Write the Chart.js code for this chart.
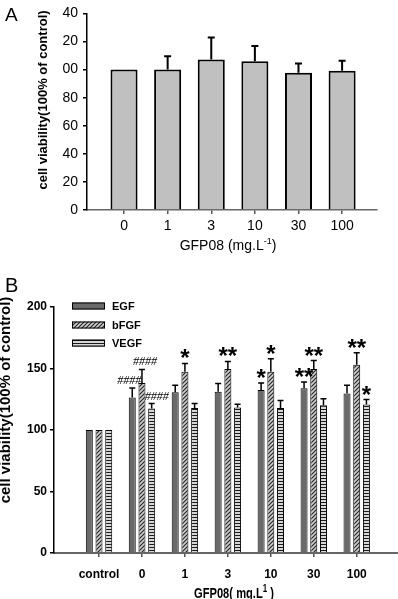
<!DOCTYPE html>
<html>
<head>
<meta charset="utf-8">
<script src="https://cdn.jsdelivr.net/npm/chart.js@4"></script>
<style>
  html, body { margin: 0; padding: 0; background: #fff; }
  body { width: 398px; height: 599px; position: relative; overflow: hidden; }
  canvas { position: absolute; left: 0; }
  #chartA { top: 0; }
  #chartB { top: 262px; }
</style>
</head>
<body>
<canvas id="chartA" width="398" height="262"></canvas>
<canvas id="chartB" width="398" height="337"></canvas>
<script>
// Panel A - GFP08 alone
const catsA = ['0', '1', '3', '10', '30', '100'];
const meanA = [100, 100, 107.1, 106, 97.7, 99.1];
const sdA = [0, 9.5, 15.7, 10.8, 6.7, 7.1];
const yTicksA = ['0', '20', '40', '60', '80', '00', '20', '40'];

// Panel B - GFP08 with growth factors
const catsB = ['control', '0', '1', '3', '10', '30', '100'];
const egf = [100, 126.4, 130.7, 131, 132.6, 134, 129.6];
const egfSd = [0, 7.8, 5.7, 6.8, 5.7, 5.1, 6.8];
const bfgf = [100, 138.3, 147.3, 149.5, 147.3, 149.5, 153];
const bfgfSd = [0, 10.9, 6.8, 6.2, 10.6, 7, 9.8];
const vegf = [100, 117.4, 117.9, 118.2, 117.9, 120.1, 120.7];
const vegfSd = [0, 4.1, 3.6, 2.7, 6, 5.4, 4];
const egfMarks = ['', '####', '', '', '*', '**', ''];
const bfgfMarks = ['', '####', '*', '**', '*', '**', '**'];
const vegfMarks = ['', '####', '', '', '', '', '*'];

const yTitle = 'cell viability(100% of control)';
const FONT = '"Liberation Sans", Arial, sans-serif';

// fill patterns for panel B
function makeHatch() {
  const c = document.createElement('canvas');
  c.width = 4; c.height = 4;
  const g = c.getContext('2d');
  g.fillStyle = '#d2d2d2';
  g.fillRect(0, 0, 4, 4);
  g.strokeStyle = '#222';
  g.lineWidth = 1.2;
  g.beginPath();
  g.moveTo(0, 4); g.lineTo(4, 0);
  g.moveTo(-1, 1); g.lineTo(1, -1);
  g.moveTo(3, 5); g.lineTo(5, 3);
  g.stroke();
  return g.createPattern(c, 'repeat');
}

function makeStripes() {
  const c = document.createElement('canvas');
  c.width = 2; c.height = 3;
  const g = c.getContext('2d');
  g.fillStyle = '#d6d6d6';
  g.fillRect(0, 0, 2, 3);
  g.fillStyle = '#1a1a1a';
  g.fillRect(0, 0, 2, 1);
  return g.createPattern(c, 'repeat');
}

// upward error bars with a cap
const errorBars = {
  id: 'errorBars',
  afterDatasetsDraw(chart, args, opts) {
    const ctx = chart.ctx;
    const y = chart.scales.y;
    chart.data.datasets.forEach((ds, di) => {
      chart.getDatasetMeta(di).data.forEach((bar, i) => {
        const err = ds.errors[i];
        if (!err) return;
        const top = y.getPixelForValue(ds.data[i].y + err);
        ctx.save();
        ctx.strokeStyle = '#000';
        ctx.lineWidth = opts.width;
        ctx.beginPath();
        ctx.moveTo(bar.x, bar.y);
        ctx.lineTo(bar.x, top);
        ctx.moveTo(bar.x - opts.cap / 2, top);
        ctx.lineTo(bar.x + opts.cap / 2, top);
        ctx.stroke();
        ctx.restore();
      });
    });
  }
};

// significance marks (* and ####) above the error bars
const sigMarks = {
  id: 'sigMarks',
  afterDatasetsDraw(chart) {
    const ctx = chart.ctx;
    const y = chart.scales.y;
    chart.data.datasets.forEach((ds, di) => {
      if (!ds.marks) return;
      chart.getDatasetMeta(di).data.forEach((bar, i) => {
        const m = ds.marks[i];
        if (!m) return;
        const top = y.getPixelForValue(ds.data[i].y + ds.errors[i]);
        ctx.save();
        ctx.fillStyle = '#000';
        ctx.textAlign = 'center';
        ctx.textBaseline = 'alphabetic';
        if (m[0] === '#') {
          ctx.font = 'italic 12px "Liberation Serif", serif';
          ctx.fillText(m, bar.x + ds.hashDx, top - 4);
        } else {
          ctx.font = 'bold 24px ' + FONT;
          ctx.fillText(m, bar.x, top + 3);
        }
        ctx.restore();
      });
    });
  }
};

function drawSupTitle(ctx, pre, sup, post, cx, base, font, supFont, width) {
  ctx.save();
  ctx.font = font;
  const w1 = ctx.measureText(pre).width;
  const w3 = ctx.measureText(post).width;
  ctx.font = supFont;
  const w2 = ctx.measureText(sup).width;
  const total = w1 + w2 + w3;
  const sx = width ? width / total : 1;
  ctx.translate(cx - total * sx / 2, base);
  ctx.scale(sx, 1);
  ctx.fillStyle = '#000';
  ctx.textAlign = 'left';
  ctx.textBaseline = 'alphabetic';
  ctx.font = font;
  ctx.fillText(pre, 0, 0);
  ctx.font = supFont;
  ctx.fillText(sup, w1, -6);
  ctx.font = font;
  ctx.fillText(post, w1 + w2, 0);
  ctx.restore();
}

function drawVertical(ctx, text, x, y, font) {
  ctx.save();
  ctx.translate(x, y);
  ctx.rotate(-Math.PI / 2);
  ctx.fillStyle = '#000';
  ctx.font = font;
  ctx.textAlign = 'center';
  ctx.textBaseline = 'alphabetic';
  ctx.fillText(text, 0, 0);
  ctx.restore();
}

const textA = {
  id: 'textA',
  afterDraw(chart) {
    const ctx = chart.ctx;
    ctx.save();
    ctx.fillStyle = '#000';
    ctx.font = '19px ' + FONT;
    ctx.fillText('A', 5, 21);
    ctx.restore();
    drawVertical(ctx, yTitle, 47, 100, 'bold 13px ' + FONT);
    drawSupTitle(ctx, 'GFP08 (mg.L', '-1', ')', 228, 250, '14px ' + FONT, '9px ' + FONT);
  }
};

const textB = {
  id: 'textB',
  afterDraw(chart) {
    const ctx = chart.ctx;
    ctx.save();
    ctx.fillStyle = '#000';
    ctx.font = '20px ' + FONT;
    ctx.fillText('B', 5, 30);
    // legend
    const rows = [44, 63, 81];
    chart.data.datasets.forEach((ds, i) => {
      ctx.fillStyle = ds.backgroundColor;
      ctx.fillRect(72, rows[i] - 3.5, 33, 7);
      ctx.strokeStyle = '#000';
      ctx.lineWidth = 1;
      ctx.strokeRect(72.5, rows[i] - 3, 32, 6);
      ctx.fillStyle = '#000';
      ctx.font = 'bold 11px ' + FONT;
      ctx.textBaseline = 'middle';
      ctx.fillText(ds.label, 112, rows[i] + 1);
    });
    ctx.restore();
    drawVertical(ctx, yTitle, 10, 138, 'bold 15px ' + FONT);
    drawSupTitle(ctx, 'GFP08( mg.L', '1', ' )', 234, 336, 'bold 14px ' + FONT, 'bold 10px ' + FONT, 80);
  }
};

new Chart(document.getElementById('chartA'), {
  type: 'bar',
  data: {
    datasets: [{
      label: 'GFP08',
      data: meanA.map((v, i) => ({ x: i, y: v })),
      errors: sdA,
      backgroundColor: '#c0c0c0',
      borderColor: '#000',
      borderWidth: 2,
      categoryPercentage: 1,
      barPercentage: 0.62
    }]
  },
  options: {
    responsive: false,
    animation: false,
    layout: { padding: { top: 7, right: 21, left: 0, bottom: 0 } },
    plugins: {
      legend: { display: false },
      tooltip: { enabled: false },
      errorBars: { width: 2, cap: 7 }
    },
    scales: {
      x: {
        type: 'linear',
        offset: false,
        min: -0.849,
        max: 5.8,
        afterBuildTicks: s => { s.ticks = catsA.map((c, i) => ({ value: i })); },
        afterFit: s => { s.height = 52; },
        ticks: {
          autoSkip: false, maxRotation: 0, padding: 4,
          color: '#000', font: { family: FONT, size: 14 },
          callback: v => catsA[v]
        },
        grid: { offset: false, drawOnChartArea: false, drawTicks: true, tickLength: 4, color: '#555', lineWidth: 1.5 },
        border: { color: '#666', width: 1.5 }
      },
      y: {
        min: 0,
        max: 140,
        afterFit: s => { s.width = 87; },
        ticks: {
          stepSize: 20, padding: 5,
          color: '#000', font: { family: FONT, size: 14 },
          callback: (v, i) => yTicksA[i]
        },
        grid: { drawOnChartArea: false, drawTicks: true, tickLength: 4, color: '#000', lineWidth: 1.5 },
        border: { color: '#000', width: 1.5 }
      }
    }
  },
  plugins: [errorBars, textA]
});

new Chart(document.getElementById('chartB'), {
  type: 'bar',
  data: {
    datasets: [
      { label: 'EGF', data: egf.map((v, i) => ({ x: i, y: v })), errors: egfSd, marks: egfMarks, hashDx: -3,
        backgroundColor: '#6a6a6a' },
      { label: 'bFGF', data: bfgf.map((v, i) => ({ x: i, y: v })), errors: bfgfSd, marks: bfgfMarks, hashDx: 3,
        backgroundColor: makeHatch() },
      { label: 'VEGF', data: vegf.map((v, i) => ({ x: i, y: v })), errors: vegfSd, marks: vegfMarks, hashDx: 5,
        backgroundColor: makeStripes() }
    ]
  },
  options: {
    responsive: false,
    animation: false,
    datasets: {
      bar: { borderColor: '#000', borderWidth: 1, categoryPercentage: 0.678, barPercentage: 0.72 }
    },
    layout: { padding: { top: 45, right: 0, left: 0, bottom: 0 } },
    plugins: {
      legend: { display: false },
      tooltip: { enabled: false },
      errorBars: { width: 1.5, cap: 6 }
    },
    scales: {
      x: {
        type: 'linear',
        offset: false,
        min: -1.048,
        max: 6.961,
        afterBuildTicks: s => { s.ticks = catsB.map((c, i) => ({ value: i })); },
        afterFit: s => { s.height = 46; },
        ticks: {
          autoSkip: false, maxRotation: 0, padding: 10,
          color: '#000', font: { family: FONT, size: 12, weight: 'bold' },
          callback: v => catsB[v]
        },
        grid: { offset: false, drawOnChartArea: false, drawTicks: true, tickLength: 4, color: '#555', lineWidth: 1.5 },
        border: { color: '#666', width: 2 }
      },
      y: {
        min: 0,
        max: 200,
        afterFit: s => { s.width = 54; },
        ticks: {
          stepSize: 50, padding: 3,
          color: '#000', font: { family: FONT, size: 12, weight: 'bold' }
        },
        grid: { drawOnChartArea: false, drawTicks: true, tickLength: 4, color: '#000', lineWidth: 1.5 },
        border: { color: '#000', width: 1.5 }
      }
    }
  },
  plugins: [errorBars, sigMarks, textB]
});
</script>
</body>
</html>
